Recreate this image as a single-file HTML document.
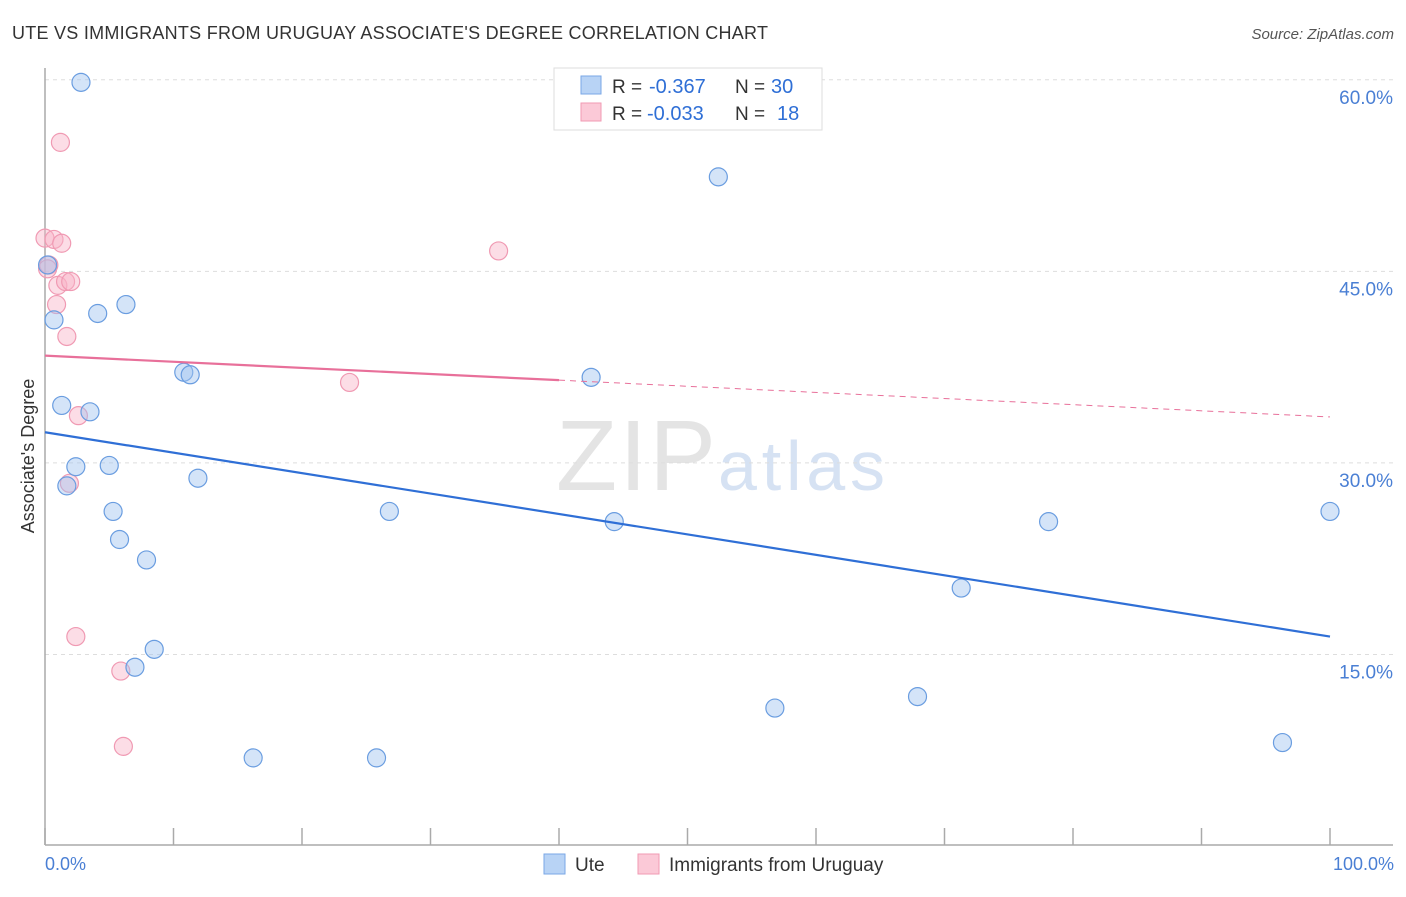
<!DOCTYPE html>
<html><head><meta charset="utf-8"><style>
body{margin:0;background:#fff;font-family:"Liberation Sans",sans-serif}
svg text{font-family:"Liberation Sans",sans-serif}
</style></head><body>
<svg width="1406" height="892" xmlns="http://www.w3.org/2000/svg">
<text x="12" y="39" font-size="18" fill="#333" textLength="756">UTE VS IMMIGRANTS FROM URUGUAY ASSOCIATE'S DEGREE CORRELATION CHART</text>
<text x="1394" y="39" font-size="15" fill="#555" font-style="italic" text-anchor="end">Source: ZipAtlas.com</text>
<text x="716" y="490" font-size="100" fill="#e4e4e4" text-anchor="end" font-family="Liberation Serif" textLength="160">ZIP</text>
<text x="718" y="490" font-size="70" fill="#d6e2f3" textLength="167">atlas</text>
<g id="grid"></g>
<line x1="45" y1="68" x2="45" y2="845" stroke="#aaa" stroke-width="1.5"/>
<line x1="45" y1="845" x2="1393" y2="845" stroke="#aaa" stroke-width="1.5"/>
<g id="xt"></g>
<g id="pts"></g>
<g id="lines"></g>
<text transform="translate(34,456) rotate(-90)" font-size="18" fill="#333" text-anchor="middle">Associate's Degree</text>
<text x="45" y="870" font-size="18" fill="#4a7fd4">0.0%</text>
<text x="1394" y="870" font-size="18" fill="#4a7fd4" text-anchor="end">100.0%</text>
<g>
<rect x="554" y="68" width="268" height="62" fill="#fff" stroke="#ddd"/>
<rect x="581" y="76" width="20" height="18" fill="#b8d3f5" stroke="#7aa7e6"/>
<rect x="581" y="103" width="20" height="18" fill="#fbc9d7" stroke="#f09ab3"/>
<text x="612" y="93" font-size="19" fill="#333">R =</text>
<text x="649" y="93" font-size="20" fill="#2f6fd6">-0.367</text>
<text x="735" y="93" font-size="19" fill="#333">N =</text>
<text x="771" y="93" font-size="20" fill="#2f6fd6">30</text>
<text x="612" y="120" font-size="19" fill="#333">R =</text>
<text x="647" y="120" font-size="20" fill="#2f6fd6">-0.033</text>
<text x="735" y="120" font-size="19" fill="#333">N =</text>
<text x="777" y="120" font-size="20" fill="#2f6fd6">18</text>
</g>
<g>
<rect x="544" y="854" width="21" height="20" fill="#b8d3f5" stroke="#7aa7e6"/>
<text x="575" y="871" font-size="19" fill="#333">Ute</text>
<rect x="638" y="854" width="21" height="20" fill="#fbc9d7" stroke="#f09ab3"/>
<text x="669" y="871" font-size="19" fill="#333">Immigrants from Uruguay</text>
</g>
</svg>
<script>
const yTicks=[15,30,45,60];
const yTickLabels=["15.0%","30.0%","45.0%","60.0%"];
const xTicks=[0,10,20,30,40,50,60,70,80,90,100];
const uteX=[2.8,52.4,0.2,0.7,4.1,6.3,10.8,11.3,42.5,1.3,3.5,2.4,5.0,1.7,11.9,5.3,26.8,44.3,78.1,100,5.8,7.9,71.3,8.5,7.0,67.9,56.8,16.2,25.8,96.3];
const uteY=[59.8,52.4,45.5,41.2,41.7,42.4,37.1,36.9,36.7,34.5,34.0,29.7,29.8,28.2,28.8,26.2,26.2,25.4,25.4,26.2,24.0,22.4,20.2,15.4,14.0,11.7,10.8,6.9,6.9,8.1];
const uruX=[1.2,0,0.7,1.3,35.3,0.3,1.0,1.6,2.0,0.9,1.7,23.7,2.6,1.9,2.4,5.9,6.1,0.2];
const uruY=[55.1,47.6,47.5,47.2,46.6,45.5,43.9,44.2,44.2,42.4,39.9,36.3,33.7,28.4,16.4,13.7,7.8,45.2];
const uteTrend=[32.4,16.4];
const uruTrend=[38.4,33.6];
const X=v=>45+v*12.85, Y=v=>846-v*12.77;
const NS="http://www.w3.org/2000/svg";
function mk(t,a,p){const e=document.createElementNS(NS,t);for(const k in a)e.setAttribute(k,a[k]);p.appendChild(e);return e;}
const grid=document.getElementById('grid');
yTicks.forEach((t,i)=>{
 const l=mk('line',{x1:45,x2:1393,y1:Y(t),y2:Y(t),stroke:'#ddd','stroke-dasharray':'4,4'},grid);
 
 
 const tx=mk('text',{x:1393,y:Y(t)+24,'font-size':19,fill:'#4a7fd4','text-anchor':'end'},grid);
 tx.textContent=yTickLabels[i];
 
 
});
const xt=document.getElementById('xt');
xTicks.forEach(t=>{
 const l=mk('line',{x1:X(t),x2:X(t),y1:828,y2:845,stroke:'#aaa','stroke-width':1.5},xt);
 
 
});
const pts=document.getElementById('pts');
uruX.forEach((x,i)=>{
 const c=mk('circle',{cx:X(x),cy:Y(uruY[i]),r:9,fill:'rgba(248,180,200,0.45)',stroke:'#f09ab3','stroke-width':1.2},pts);
 
 
});
uteX.forEach((x,i)=>{
 const c=mk('circle',{cx:X(x),cy:Y(uteY[i]),r:9,fill:'rgba(160,195,240,0.45)',stroke:'#6a9de0','stroke-width':1.2},pts);
 
 
});
const ln=document.getElementById('lines');
const u=mk('line',{x1:X(0),y1:Y(uteTrend[0]),x2:X(100),y2:Y(uteTrend[1]),stroke:'#2f6fd6','stroke-width':2.2},ln);


const f=v=>uruTrend[0]+(uruTrend[1]-uruTrend[0])*v/100;
const p1=mk('line',{x1:X(0),y1:Y(f(0)),x2:X(40),y2:Y(f(40)),stroke:'#e8709a','stroke-width':2.2},ln);


const p2=mk('line',{x1:X(40),y1:Y(f(40)),x2:X(100),y2:Y(f(100)),stroke:'#e8709a','stroke-width':1,'stroke-dasharray':'6,5'},ln);


</script>
</body></html>
